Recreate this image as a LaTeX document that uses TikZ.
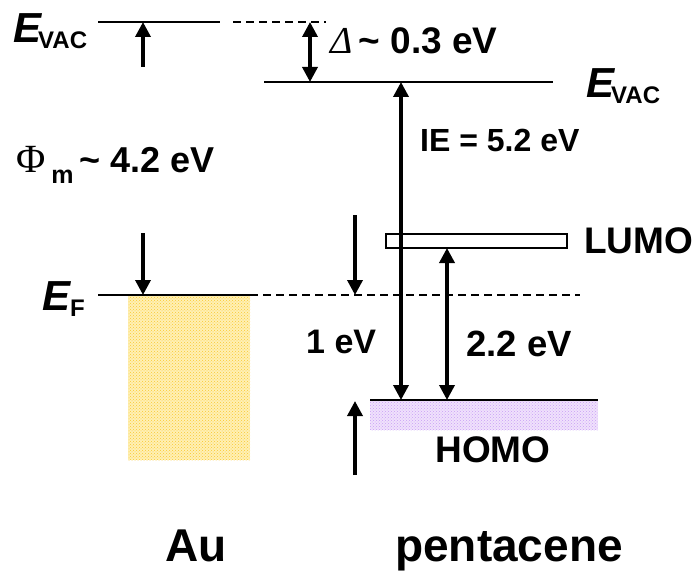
\documentclass[tikz,border=0pt]{standalone}
\usepackage{fontspec}
\setmainfont{Liberation Sans}
\newfontfamily\seriffam{Liberation Serif}
\usetikzlibrary{arrows.meta,patterns}
\definecolor{aufill}{RGB}{255,240,180}
\definecolor{audots}{RGB}{250,200,50}
\definecolor{hofill}{RGB}{240,225,252}
\definecolor{hodots}{RGB}{200,160,245}
\newcommand\fsz[1]{\fontsize{#1}{#1}\selectfont}
\tikzset{
  level/.style={line width=2pt},
  dlevel/.style={line width=2pt, dash pattern=on 8pt off 5pt},
  arr/.style={line width=3.5pt,-{Triangle[width=15pt,length=15pt]}},
  darr/.style={line width=3.5pt,{Triangle[width=15pt,length=15pt]}-{Triangle[width=15pt,length=15pt]}},
  lbl/.style={inner sep=0pt, font=\bfseries\fsz{32}},
  big/.style={inner sep=0pt, font=\bfseries\fsz{46}},
}
\begin{document}
\begin{tikzpicture}[x=1pt,y=-1pt]
\useasboundingbox (0,0) rectangle (698,572);
% coordinates
\coordinate (vacAuL) at (98,22);
\coordinate (vacAuR) at (220,22);
\coordinate (vacDashL) at (233,22);
\coordinate (vacDashR) at (326,22);
\coordinate (vacPL) at (264,82);
\coordinate (vacPR) at (553,82);
\coordinate (efL) at (98,295);
\coordinate (efM) at (250,295);
\coordinate (efR) at (580,295);
\coordinate (homoL) at (370,400);
\coordinate (homoR) at (598,400);
% fills
\fill[aufill] (128,296) rectangle (250,460);
\fill[pattern=crosshatch dots, pattern color=audots] (128,296) rectangle (250,460);
\fill[hofill] (370,401) rectangle (598,430);
\fill[pattern=crosshatch dots, pattern color=hodots] (370,401) rectangle (598,430);
% levels
\draw[level] (vacAuL) -- (vacAuR);
\draw[dlevel] (vacDashL) -- (vacDashR);
\draw[level] (vacPL) -- (vacPR);
\draw[level] (efL) -- (efM);
\draw[dlevel] (efM) -- (efR);
\draw[level] (homoL) -- (homoR);
\node[draw, line width=1.5pt, minimum width=181pt, minimum height=14pt, inner sep=0pt] (lumo) at (476.5,241) {};
% arrow endpoints
\coordinate (a1s) at (143,67);
\coordinate (a1e) at (143,22);
\coordinate (a2s) at (310,22);
\coordinate (a2e) at (310,82);
\coordinate (ieT) at (401,82);
\coordinate (ieB) at (401,400);
\coordinate (a3s) at (143,233);
\coordinate (a3e) at (143,295);
\coordinate (a4s) at (355,215);
\coordinate (a4e) at (355,295);
\coordinate (ggT) at (447,248);
\coordinate (ggB) at (447,400);
\coordinate (a5s) at (355,475);
\coordinate (a5e) at (355,401);
\draw[arr] (a1s) -- (a1e);
\draw[darr] (a2s) -- (a2e);
\draw[darr] (ieT) -- (ieB);
\draw[arr] (a3s) -- (a3e);
\draw[arr] (a4s) -- (a4e);
\draw[darr] (ggT) -- (ggB);
\draw[arr] (a5s) -- (a5e);
% labels
\node[lbl, anchor=base west] (evacL) at (13,43) {{\fsz{42}\itshape E}\kern-3pt{\fsz{24}\raisebox{-6pt}{VAC}}};
\node[lbl, anchor=base west] (evacR) at (586,98) {{\fsz{42}\itshape E}\kern-3pt{\fsz{24}\raisebox{-6pt}{VAC}}};
\node[lbl, anchor=base west] (efl) at (42,310) {{\fsz{42}\itshape E}{\fsz{24}\raisebox{-6pt}{F}}};
\node[lbl, anchor=base west, font=\bfseries\fsz{37}] (delta) at (330,54) {{\seriffam\mdseries\itshape\fsz{38}Δ}\,\textasciitilde\ 0.3 eV};
\node[lbl, anchor=base west] (ie) at (420,152) {IE = 5.2 eV};
\node[lbl, anchor=base west, font=\bfseries\fsz{36}] (phi) at (16,173) {{\seriffam\mdseries\fsz{40}Φ}\,{\fsz{25}\raisebox{-10pt}{m}}\,\textasciitilde\ 4.2 eV};
\node[lbl, anchor=base west, font=\bfseries\fsz{37}] (lumol) at (584,253) {LUMO};
\node[lbl, anchor=base west, font=\bfseries\fsz{34}] (onee) at (306,353) {1 eV};
\node[lbl, anchor=base west, font=\bfseries\fsz{36.5}] (twoe) at (466,356) {2.2 eV};
\node[lbl, anchor=base, font=\bfseries\fsz{37}] (homol) at (493,462) {HOMO};
\node[big, anchor=base] (au) at (196,561) {Au};
\node[big, anchor=base] (pen) at (509,561) {pentacene};
\end{tikzpicture}
\end{document}
